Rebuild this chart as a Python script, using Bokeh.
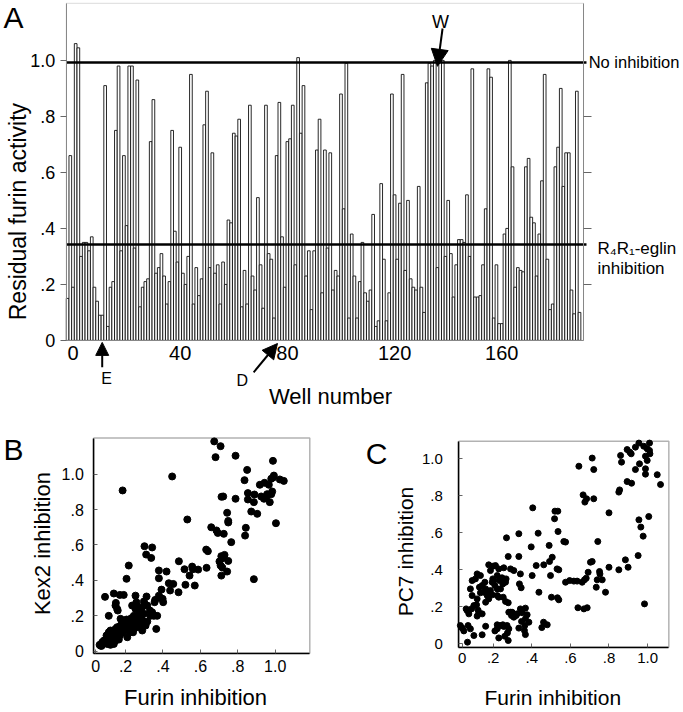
from math import pi
from bokeh.plotting import figure
from bokeh.layouts import column, row
from bokeh.models import (Range1d, FixedTicker, LinearAxis, Label, Arrow,
                          NormalHead, CustomJSTickFormatter, BoxAnnotation)
from bokeh.embed import file_html
from bokeh.resources import INLINE

FONT = "Liberation Sans"

# ---------------- data ----------------
well_ticks = [0, 40, 80, 120, 160]
frac_ticks = [0.2, 0.4, 0.6, 0.8, 1.0]
no_inhibition_level = 0.993
eglin_inhibition_level = 0.343
first_well = -2   # the first bar sits about two wells left of the "0" tick

# residual furin activity, first 96 bars
plate1 = [0.15, 0.66, 0.19, 1.06, 1.045, 0.30, 0.35, 0.35, 0.32, 0.37,
          0.19, 0.14, 0.09, 0.09, 0.91, 0.05, 0.19, 0.21, 0.75, 0.98,
          0.32, 0.66, 0.41, 0.98, 0.98, 0.33, 0.93, 0.12, 0.19, 0.21,
          0.22, 0.71, 0.86, 0.24, 0.26, 0.31, 0.23, 0.13, 0.21, 0.75,
          0.39, 0.28, 0.69, 0.24, 0.20, 0.30, 0.95, 0.13, 0.26, 0.16,
          0.22, 0.77, 0.89, 0.26, 0.67, 0.24, 0.27, 0.13, 0.28, 0.20,
          0.43, 0.42, 0.74, 0.73, 0.79, 0.12, 0.25, 0.13, 0.84, 0.23,
          0.18, 0.51, 0.27, 0.115, 0.84, 0.31, 0.29, 0.08, 0.66, 0.85,
          0.37, 0.19, 0.71, 0.72, 0.84, 0.27, 1.01, 0.74, 0.91, 0.23,
          0.32, 0.11, 0.32, 0.68, 0.79, 0.17]
# residual furin activity, last 96 bars
plate2 = [0.68, 0.33, 0.67, 0.18, 0.25, 0.23, 0.88, 0.47, 0.99, 0.08,
          0.38, 0.23, 0.08, 0.21, 0.35, 0.17, 0.14, 0.18, 0.45, 0.05,
          0.07, 0.56, 0.29, 0.07, 0.17, 0.88, 0.52, 0.29, 0.49, 0.95,
          0.25, 0.50, 0.22, 0.19, 0.18, 0.55, 0.19, 0.10, 0.92, 0.99,
          0.98, 1.00, 0.26, 1.00, 1.00, 0.30, 0.50, 0.31, 0.155, 0.27,
          0.36, 0.36, 0.35, 0.52, 0.30, 0.97, 0.155, 0.155, 0.16, 0.27,
          0.47, 0.97, 0.94, 0.08, 0.27, 0.06, 0.06, 0.38, 0.40, 1.00,
          0.62, 0.19, 0.26, 0.25, 0.245, 0.62, 0.65, 0.44, 0.42, 0.23,
          0.38, 0.57, 0.95, 0.29, 0.11, 0.13, 0.62, 0.69, 0.90, 0.55,
          0.67, 0.67, 0.18, 0.095, 0.89, 0.10]

# panel B: furin inhibition vs Kex2 inhibition
furin_b = [0.674, 0.708, 0.681, 0.788, 0.988, 0.85, 0.993, 0.989, 0.836, 1.025,
           1.046, 0.979, 0.966, 0.943, 0.918, 0.889, 0.854, 0.925, 0.957, 0.979,
           0.952, 0.94, 0.984, 0.971, 0.886, 0.854, 0.788, 0.713, 0.722, 0.872,
           0.904, 0.743, 0.749, 0.749, 0.843, 0.839, 0.658, 0.686, 0.693, 0.725,
           1.004, 0.765, 0.886, 0.53, 0.449, 0.184,
           0.631, 0.64, 0.712, 0.718, 0.729, 0.702, 0.708, 0.717, 0.633, 0.749,
           0.712, 0.743, 0.556, 0.56, 0.588, 0.515, 0.542, 0.52, 0.57, 0.485,
           0.419, 0.378, 0.378, 0.431, 0.438, 0.483, 0.455, 0.392, 0.387, 0.398,
           0.358, 0.401, 0.355, 0.301, 0.342, 0.31, 0.337, 0.217, 0.205, 0.137,
           0.169, 0.19, 0.09, 0.253, 0.148, 0.146, 0.155, 0.11, 0.158, 0.312,
           0.298, 0.258, 0.253, 0.271, 0.289, 0.301, 0.316, 0.33, 0.342, 0.351,
           0.369, 0.364, 0.333, 0.298, 0.28, 0.262, 0.244, 0.226, 0.209, 0.19,
           0.173, 0.155, 0.146, 0.137, 0.119, 0.11, 0.098, 0.084, 0.075, 0.066,
           0.093, 0.102, 0.119, 0.137, 0.128, 0.11, 0.155, 0.169, 0.182, 0.194,
           0.209, 0.226, 0.244, 0.262, 0.28, 0.298, 0.316, 0.289, 0.307, 0.235,
           0.217, 0.2, 0.182, 0.209, 0.24, 0.217, 0.23, 0.244, 0.253, 0.271,
           0.285, 0.173, 0.184, 0.205, 0.223, 0.164, 0.15, 0.123, 0.146, 0.164,
           0.061, 0.071, 0.102, 0.119, 0.258, 0.28, 0.235, 0.378]
kex2_b = [1.185, 1.158, 1.096, 1.104, 1.075, 1.024, 0.992, 0.981, 0.966, 0.97,
          0.962, 0.974, 0.94, 0.951, 0.94, 0.885, 0.893, 0.874, 0.887, 0.887,
          0.87, 0.861, 0.902, 0.842, 0.842, 0.857, 0.861, 0.872, 0.874, 0.789,
          0.776, 0.782, 0.736, 0.727, 0.697, 0.653, 0.70, 0.682, 0.668, 0.663,
          0.723, 0.616, 0.407, 0.744, 0.987, 0.908,
          0.574, 0.565, 0.537, 0.525, 0.544, 0.507, 0.484, 0.473, 0.471, 0.51,
          0.427, 0.45, 0.478, 0.463, 0.461, 0.463, 0.427, 0.375, 0.371, 0.508,
          0.45, 0.456, 0.412, 0.384, 0.343, 0.333, 0.38, 0.348, 0.301, 0.296,
          0.29, 0.277, 0.277, 0.593, 0.586, 0.546, 0.527, 0.484, 0.409, 0.326,
          0.318, 0.318, 0.307, 0.314, 0.273, 0.258, 0.239, 0.20, 0.23, 0.309,
          0.281, 0.254, 0.239, 0.23, 0.249, 0.267, 0.258, 0.23, 0.22, 0.20,
          0.20, 0.126, 0.20, 0.211, 0.20, 0.183, 0.164, 0.145, 0.164, 0.173,
          0.145, 0.136, 0.126, 0.117, 0.117, 0.107, 0.089, 0.06, 0.051, 0.032,
          0.055, 0.055, 0.051, 0.041, 0.07, 0.07, 0.073, 0.089, 0.104, 0.126,
          0.117, 0.107, 0.126, 0.136, 0.145, 0.164, 0.168, 0.117, 0.145, 0.149,
          0.136, 0.145, 0.154, 0.079, 0.107, 0.173, 0.186, 0.20, 0.192, 0.164,
          0.186, 0.183, 0.164, 0.179, 0.158, 0.117, 0.105, 0.085, 0.06, 0.066,
          0.036, 0.03, 0.041, 0.036, 0.277, 0.22, 0.258, 0.314]

# panel C: furin inhibition vs PC7 inhibition
furin_c = [0.955, 1.01, 0.98, 0.998, 1.01, 0.937, 0.894, 0.908, 0.915, 0.86,
           1.012, 0.989, 0.998, 0.865, 0.958, 0.937, 0.989, 0.989, 1.05, 1.067,
           0.894, 0.917, 0.855, 0.851, 0.713, 0.721, 0.644, 0.666, 0.684, 0.675,
           0.721, 0.80, 1.006, 0.955, 0.965, 0.977, 0.742, 0.713, 0.80, 0.851,
           0.885, 0.899, 0.951, 0.984, 0.751, 0.753, 0.765, 0.782, 0.734, 0.692,
           0.682, 0.673, 0.661, 0.635, 0.704, 0.639, 0.67, 0.687, 0.739,
           0.405, 0.52, 0.535, 0.518, 0.536, 0.566, 0.575, 0.49, 0.433, 0.506,
           0.492, 0.462, 0.531, 0.54, 0.618, 0.575, 0.596, 0.497, 0.502, 0.533,
           0.54, 0.461, 0.48, 0.452, 0.397, 0.423, 0.402, 0.437,
           0.269, 0.333, 0.278, 0.333, 0.341, 0.345, 0.336, 0.29, 0.307, 0.267,
           0.264, 0.212, 0.20, 0.186, 0.177, 0.255, 0.246, 0.229, 0.221, 0.203,
           0.233, 0.198, 0.186, 0.195, 0.177, 0.161, 0.152, 0.134, 0.117, 0.134,
           0.143, 0.161, 0.169, 0.177, 0.209, 0.221, 0.229, 0.252, 0.264, 0.278,
           0.238, 0.25, 0.221, 0.195, 0.157, 0.091, 0.108, 0.129, 0.082, 0.065,
           0.074, 0.091, 0.117, 0.143, 0.117, 0.161, 0.143, 0.221, 0.229, 0.238,
           0.255, 0.272, 0.281, 0.274, 0.26, 0.278, 0.25, 0.281, 0.295, 0.29,
           0.307, 0.324, 0.319, 0.307, 0.367, 0.376, 0.367, 0.364, 0.385, 0.362,
           0.367, 0.35, 0.341, 0.298, 0.333, 0.347, 0.07, 0.082, 0.10, 0.067,
           0.039, 0.03, 0.048, 0.06, 0.088, 0.10, 0.114, 0.126, 0.122, 0.209,
           0.221]
pc7_c = [1.085, 1.085, 1.068, 1.054, 1.045, 1.063, 1.05, 1.036, 1.027, 1.018,
         1.027, 1.014, 0.991, 0.982, 0.973, 0.942, 0.946, 0.917, 0.914, 0.861,
         0.877, 0.868, 0.832, 0.82, 1.004, 0.942, 0.96, 0.805, 0.784, 0.766,
         0.784, 0.708, 0.688, 0.67, 0.631, 0.582, 0.553, 0.445, 0.414, 0.40,
         0.454, 0.414, 0.477, 0.216, 0.391, 0.378, 0.346, 0.279, 0.306, 0.387,
         0.355, 0.346, 0.333, 0.339, 0.441, 0.195, 0.189, 0.195, 0.346,
         0.735, 0.717, 0.717, 0.676, 0.607, 0.553, 0.55, 0.532, 0.598, 0.468,
         0.445, 0.427, 0.405, 0.40, 0.339, 0.333, 0.342, 0.369, 0.252, 0.249,
         0.238, 0.117, 0.103, 0.088, 0.524, 0.423, 0.369, 0.279,
         0.573, 0.595, 0.472, 0.472, 0.378, 0.303, 0.324, 0.405, 0.396, 0.351,
         0.333, 0.423, 0.42, 0.396, 0.427, 0.411, 0.357, 0.405, 0.369, 0.342,
         0.342, 0.351, 0.288, 0.265, 0.243, 0.297, 0.279, 0.276, 0.378, 0.369,
         0.315, 0.225, 0.261, 0.268, 0.315, 0.261, 0.252, 0.252, 0.229, 0.222,
         0.297, 0.324, 0.297, 0.333, 0.333, 0.342, 0.351, 0.306, 0.297, 0.18,
         0.162, 0.261, 0.243, 0.162, 0.15, 0.095, 0.049, 0.103, 0.032, 0.099,
         0.094, 0.099, 0.081, 0.059, 0.041, 0.018, 0.103, 0.171, 0.153, 0.171,
         0.162, 0.162, 0.153, 0.144, 0.193, 0.157, 0.135, 0.099, 0.117, 0.072,
         0.05, 0.168, 0.189, 0.171, 0.085, 0.121, 0.099, 0.081, 0.045, 0.009,
         0.086, 0.099, 0.07, 0.189, 0.189, 0.207, 0.211, 0.168, 0.182, 0.07,
         0.081]

residual = plate1 + plate2
wells = list(range(first_well, first_well + len(residual)))

frac_fmt = CustomJSTickFormatter(code="""
    if (tick < 0.05) { return "0"; }
    var s = tick.toFixed(1);
    return s.charAt(0) == "0" ? s.substring(1) : s;
""")
well_fmt = CustomJSTickFormatter(code="return tick.toFixed(0);")
blank_fmt = CustomJSTickFormatter(code="return '';")


def lab(p, x, y, text, size, align="center", angle=0.0):
    p.add_layout(Label(x=x, y=y, text=text, text_font=FONT,
                       text_font_size=size, text_align=align,
                       text_baseline="middle", angle=angle,
                       text_color="black"))


def bare_figure(w, h, xr, yr):
    p = figure(width=w, height=h, x_range=Range1d(*xr), y_range=Range1d(*yr),
               min_border_left=0, min_border_right=0, min_border_top=0,
               min_border_bottom=0, x_axis_location=None, y_axis_location=None,
               output_backend="svg", toolbar_location=None)
    p.xgrid.visible = False
    p.ygrid.visible = False
    p.outline_line_color = None
    return p


def axis(fixed, bounds, ticks, fmt, size, standoff, tick_in, tick_out,
         line_color, line_width=1.0):
    return LinearAxis(fixed_location=fixed, bounds=bounds,
                      ticker=FixedTicker(ticks=ticks), formatter=fmt,
                      major_tick_in=tick_in, major_tick_out=tick_out,
                      minor_tick_in=0, minor_tick_out=0,
                      axis_line_color=line_color, axis_line_width=line_width,
                      major_tick_line_color="#666666",
                      major_label_text_font=FONT,
                      major_label_text_font_size=size,
                      major_label_text_color="black",
                      major_label_standoff=standoff)


def arrow(p, x0, y0, x1, y1, head):
    p.add_layout(Arrow(end=NormalHead(size=head, fill_color="black",
                                      line_color="black", line_width=1),
                       x_start=x0, y_start=y0, x_end=x1, y_end=y1,
                       line_width=2, line_color="black"))


# ---------------- panel A ----------------
a_left, a_right = wells[0] - 0.5, wells[-1] + 1.5
a_bottom, a_top = 0.0, 1.204
pA = bare_figure(683, 420, (-27.05, 227.8), (-0.286, 1.214))
pA.add_layout(BoxAnnotation(left=a_left, right=a_right, bottom=a_bottom,
                            top=a_top, fill_color=None, line_color="#888888",
                            line_width=1))
pA.vbar(x=wells, top=residual, width=1.0, bottom=0, fill_color="white",
        line_color="#111111", line_width=0.9)
line_end = a_right + 1.1
pA.segment(x0=[a_left, a_left], x1=[line_end, line_end],
           y0=[no_inhibition_level, eglin_inhibition_level],
           y1=[no_inhibition_level, eglin_inhibition_level],
           line_color="black", line_width=2.5)

pA.add_layout(axis(a_bottom, (a_left, a_right), well_ticks, well_fmt, "20px", 6,
                   0, 0, "#888888"), "below")
pA.add_layout(axis(a_left, (a_bottom, a_top), [0.0] + frac_ticks, frac_fmt,
                   "18px", 5, 0, 6, "#888888"), "left")
pA.add_layout(axis(a_right, (a_bottom, a_top), frac_ticks[:-1], blank_fmt,
                   "1px", 0, 0, 8, "#888888"), "right")

lab(pA, -22.2, 1.155, "A", "30px")
lab(pA, -20.7, 0.46, "Residual furin activity", "23px", angle=pi / 2)
lab(pA, 96.1, -0.20, "Well number", "22px")
lab(pA, 12.5, -0.136, "E", "16px")
lab(pA, 63.2, -0.143, "D", "16px")
lab(pA, 137.1, 1.139, "W", "18px")
lab(pA, 192.4, no_inhibition_level, "No inhibition", "16.5px", align="left")
lab(pA, 195.7, 0.329, "R\u2084R\u2081-eglin", "17px", align="left")
lab(pA, 195.7, 0.257, "inhibition", "17px", align="left")

arrow(pA, 10.9, -0.096, 10.9, -0.007, 13)
arrow(pA, 67.4, -0.114, 76.3, -0.011, 15)
arrow(pA, 137.9, 1.114, 136.0, 0.979, 17)


def scatter_panel(w, h, xr, yr, box, size, y_standoff, x_standoff):
    p = bare_figure(w, h, xr, yr)
    l, r, b, t = box
    p.add_layout(BoxAnnotation(left=l, right=r, bottom=b, top=t,
                               fill_color=None, line_color="black",
                               line_width=1.5))
    p.add_layout(axis(b, (l, r), [0.04] + frac_ticks, frac_fmt, size,
                      x_standoff, 4, 0, "black", 1.5), "below")
    p.add_layout(axis(l, (b, t), [0.0] + frac_ticks, frac_fmt, size,
                      y_standoff, 4, 0, "black", 1.5), "left")
    return p


# ---------------- panel B ----------------
pB = scatter_panel(345, 292, (-0.469, 1.376), (-0.346, 1.303),
                   (0.03, 1.185, -0.011, 1.204), "16px", 10, 7)
pB.scatter(furin_b, kex2_b, size=7, color="black")
lab(pB, -0.399, 1.14, "B", "30px")
lab(pB, -0.246, 0.608, "Kex2 inhibition", "22px", angle=pi / 2)
lab(pB, 0.574, -0.26, "Furin inhibition", "22px")

# ---------------- panel C ----------------
pC = scatter_panel(338, 292, (-0.565, 1.186), (-0.371, 1.207),
                   (0.022, 1.110, -0.018, 1.095), "15px", 16, 6)
pC.scatter(furin_c, pc7_c, size=6, color="black")
lab(pC, -0.404, 1.029, "C", "30px")
lab(pC, -0.254, 0.499, "PC7 inhibition", "21px", angle=pi / 2)
lab(pC, 0.509, -0.289, "Furin inhibition", "21px")

layout = column(pA, row(pB, pC))
open("out.html", "w").write(file_html(layout, INLINE))
